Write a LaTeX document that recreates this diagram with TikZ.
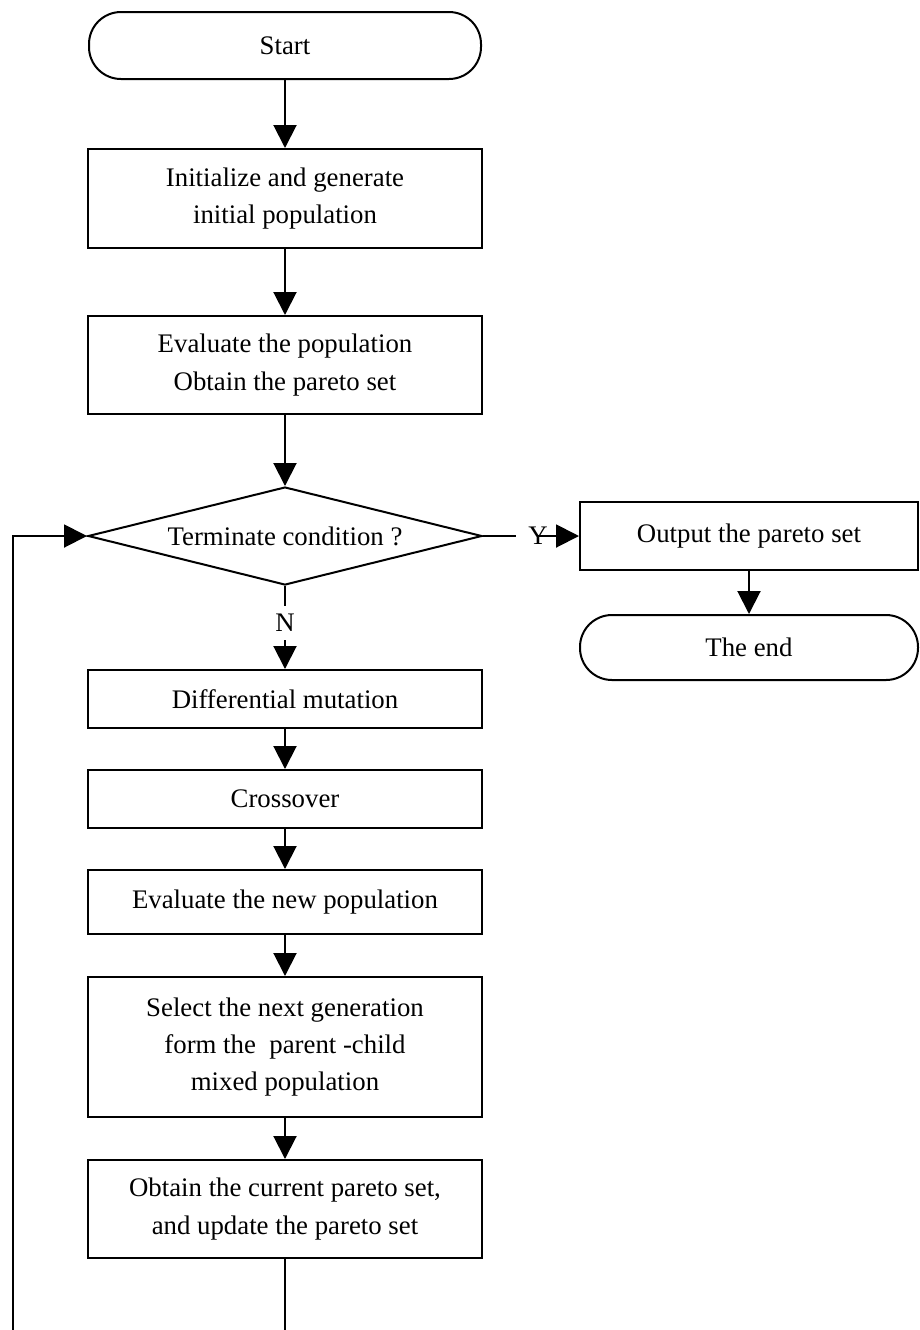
\documentclass[tikz,border=0pt]{standalone}
\usepackage{fontspec}
\setmainfont{Liberation Serif}
\usetikzlibrary{arrows.meta,shapes.geometric}
\begin{document}
\begin{tikzpicture}[x=0.5pt,y=-0.5pt,
  every node/.style={font=\fontsize{13.4pt}{18.6pt}\selectfont, align=center},
  procbox/.style={draw, line width=1pt, rectangle, inner sep=0pt, minimum width=197pt},
  termbox/.style={draw, line width=1pt, rectangle, rounded corners=16pt, inner sep=0pt},
  decbox/.style={draw, line width=1pt, diamond, shape aspect=4, inner sep=0pt, minimum width=197pt, minimum height=49pt},
  lbl/.style={inner sep=0pt, inner xsep=6pt, inner ysep=4pt},
  conn/.style={line width=1pt},
  arr/.style={line width=1pt, -{Triangle[length=11.5pt,width=11.5pt]}}
]
\useasboundingbox (0,0) rectangle (920,1330);
\node[termbox, minimum width=196pt, minimum height=33.5pt] (start) at (285,45.5) {Start};
\node[procbox, minimum height=49.5pt] (init) at (285,198.5) {Initialize and generate\\initial population};
\node[procbox, minimum height=49pt] (eval) at (285,365) {Evaluate the population\\Obtain the pareto set};
\node[decbox] (cond) at (285,536) {Terminate condition ?};
\node[procbox, minimum width=169pt, minimum height=34pt] (out) at (749,536) {Output the pareto set};
\node[termbox, minimum width=169pt, minimum height=32.5pt] (end) at (749,647.5) {The end};
\node[lbl] (Y) at (538,536) {Y};
\node[lbl] (N) at (285,623) {N};
\node[procbox, minimum height=29pt] (dm) at (285,699) {Differential mutation};
\node[procbox, minimum height=29pt] (cross) at (285,799) {Crossover};
\node[procbox, minimum height=32pt] (evnew) at (285,902) {Evaluate the new population};
\node[procbox, minimum height=70pt] (sel) at (285,1047) {Select the next generation\\form the\ \ parent -child\\mixed population};
\node[procbox, minimum height=49pt] (obt) at (285,1209) {Obtain the current pareto set,\\and update the pareto set};
\coordinate (bot) at (285,1330);
\coordinate (loopbot) at (13,1330);

\draw[arr] (start) -- (init);
\draw[arr] (init) -- (eval);
\draw[arr] (eval) -- (cond);
\draw[conn] (cond.east) -- (Y.west);
\draw[arr] (Y.center) -- (out.west);
\draw[arr] (out) -- (end);
\draw[conn] (cond.south) -- (N.north);
\draw[arr] (N.south) -- (dm.north);
\draw[arr] (dm) -- (cross);
\draw[arr] (cross) -- (evnew);
\draw[arr] (evnew) -- (sel);
\draw[arr] (sel) -- (obt);
\draw[conn] (obt.south) -- (bot);
\draw[arr] (loopbot) |- (cond.west);
\end{tikzpicture}
\end{document}
